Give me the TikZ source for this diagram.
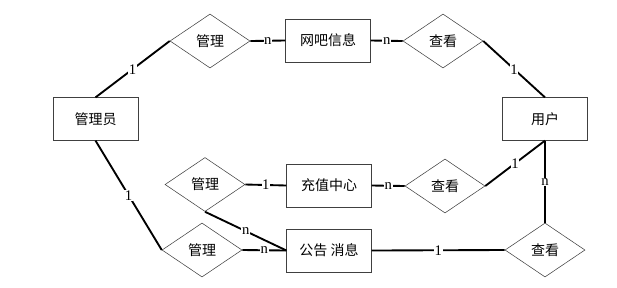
\documentclass[tikz,border=0pt]{standalone}
\usepackage{fontspec}
\setmainfont{Liberation Serif}
\newfontfamily\cjk{Noto Sans CJK SC}
\usepackage{tikz}
\usetikzlibrary{shapes.geometric}
\definecolor{edgegray}{HTML}{404040}

\begin{document}
\begin{tikzpicture}[
  x=0.75pt,y=-0.75pt,
  entity/.style={draw=edgegray,rectangle,font=\cjk\fontsize{10.5}{12}\selectfont,
    minimum width=63.5pt,minimum height=32pt,inner sep=0pt},
  relation/.style={draw=edgegray,diamond,font=\cjk\fontsize{10.5}{12}\selectfont,
    minimum width=60pt,minimum height=40.5pt,inner sep=0pt},
  link/.style={line width=1.4pt,draw=black},
  card/.style={fill=white,inner sep=0.5pt,font=\fontsize{11}{12}\selectfont}
]
  \useasboundingbox (0,0) rectangle (617,287);

  % entities
  \node[entity] (admin) at (95.5,119) {管理员};
  \node[entity] (netbar) at (328,40.5) {网吧信息};
  \node[entity] (user) at (545,119) {用户};
  \node[entity] (recharge) at (329,185.5) {充值中心};
  \node[entity] (notice) at (329,250.5) {公告 消息};

  % relations
  \node[relation] (mgA) at (210,41) {管理};
  \node[relation] (ckA) at (443,41) {查看};
  \node[relation] (mgB) at (205,184.5) {管理};
  \node[relation] (ckB) at (445,186) {查看};
  \node[relation] (mgC) at (202,250) {管理};
  \node[relation] (ckC) at (545,250) {查看};

  \draw[link] (admin.north) -- node[card] {1} (mgA.west);
  \draw[link] (mgA.east) -- node[card] {n} (netbar.west);
  \draw[link] (netbar.east) -- node[card] {n} (ckA.west);
  \draw[link] (ckA.east) -- node[card] {1} (user.north);
  \draw[link] (admin.south) -- node[card] {1} (mgC.west);
  \draw[link] (mgB.east) -- node[card] {1} (recharge.west);
  \draw[link] (mgB.south) -- node[card] {n} (notice.west);
  \draw[link] (mgC.east) -- node[card] {n} (notice.west);
  \draw[link] (recharge.east) -- node[card] {n} (ckB.west);
  \draw[link] (ckB.east) -- node[card] {1} (user.south);
  \draw[link] (notice.east) -- node[card] {1} (ckC.west);
  \draw[link] (user.south) -- node[card] {n} (ckC.north);
\end{tikzpicture}
\end{document}
